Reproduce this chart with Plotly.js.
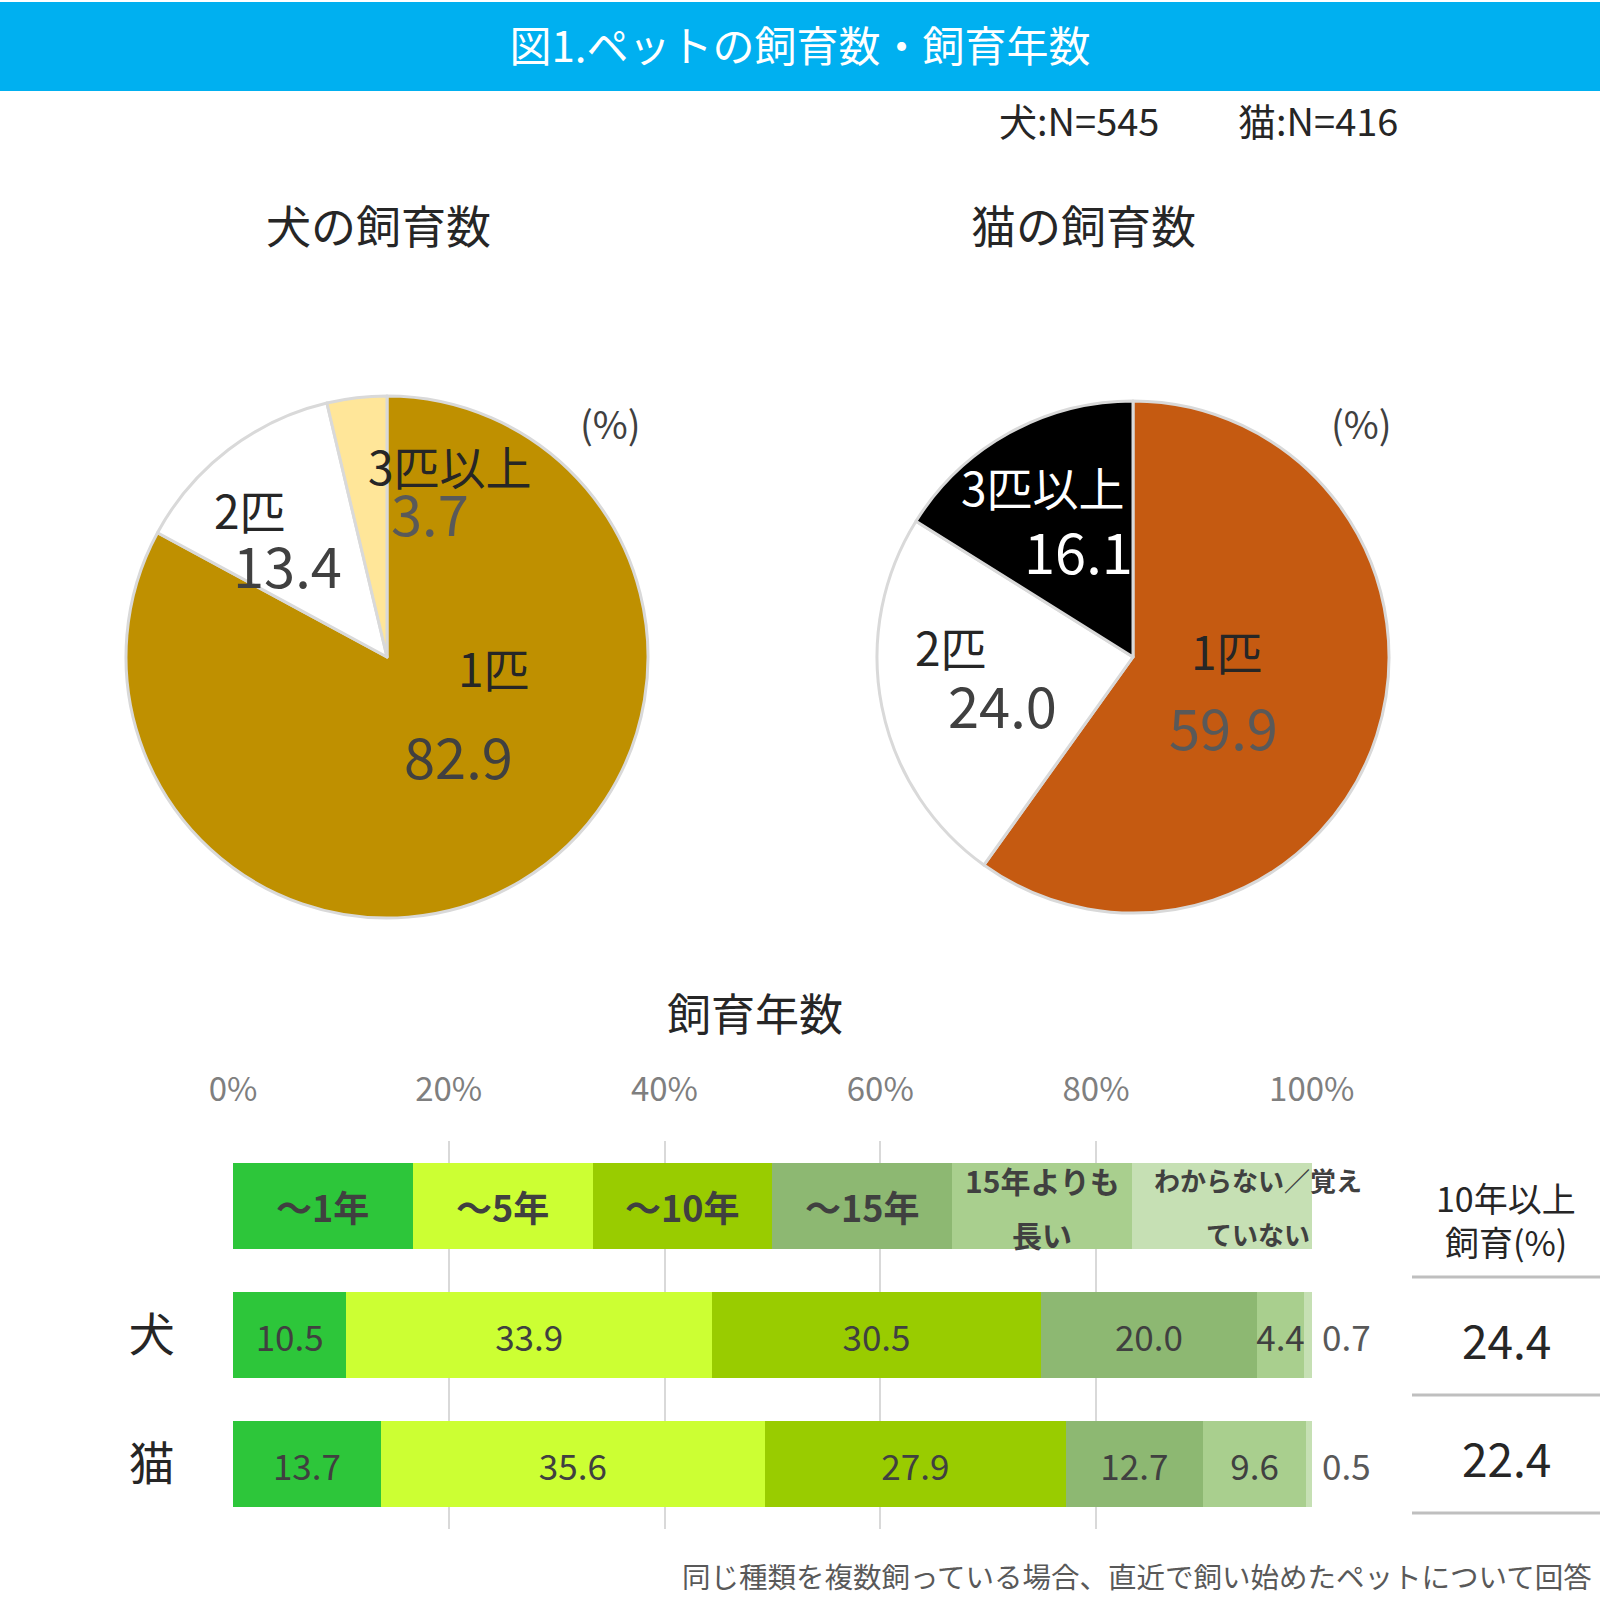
<!DOCTYPE html>
<html><head><meta charset="utf-8">
<script src="https://cdn.plot.ly/plotly-3.0.1.min.js"></script>
<style>body{margin:0;background:#fff}#chart{width:1600px;height:1620px}</style>
</head><body><div id="chart"></div>
<script>
// ---- data ----
const chartTitle = '図1.ペットの飼育数・飼育年数';
const sampleNotes = ['犬:N=545', '猫:N=416'];
const dogPieTitle = '犬の飼育数';
const catPieTitle = '猫の飼育数';
const pieLabels = ['1匹', '2匹', '3匹以上'];
const dogCounts = [82.9, 13.4, 3.7];
const catCounts = [59.9, 24.0, 16.1];
const barTitle = '飼育年数';
const periodCategories = ['～1年', '～5年', '～10年', '～15年', '15年よりも<br>長い', 'わからない／覚え<br>ていない'];
const rowLabels = ['犬', '猫'];
const dogYears = [10.5, 33.9, 30.5, 20.0, 4.4, 0.7];
const catYears = [13.7, 35.6, 27.9, 12.7, 9.6, 0.5];
const over10Header = '10年以上<br>飼育(%)';
const over10 = [24.4, 22.4];
const xTickVals = [0, 20, 40, 60, 80, 100];
const xTickText = ['0%', '20%', '40%', '60%', '80%', '100%'];
const footnote = '同じ種類を複数飼っている場合、直近で飼い始めたペットについて回答';

// ---- styles ----
const W = 1600, H = 1620;
const px = v => v / W;
const py = v => 1 - v / H;
const FONT = '"Noto Sans CJK JP", "Noto Sans", sans-serif';
const dogColors = ['#BF9000', '#FFFFFF', '#FFE699'];
const catColors = ['#C55A11', '#FFFFFF', '#000000'];
const periodColors = ['#2DC63A', '#CCFF33', '#99CC00', '#8DB872', '#A9CF8E', '#C6E0B4'];
const legendFontSizes = [36, 36, 36, 36, 30, 26];
const legendXShift = [0, 0, 0, 0, 0, 36];
const LEGEND_ROW = '凡例';

// pie label placement (pixel centres): [nameX, nameY, valueX, valueY, nameColor, valueColor]
const dogLabelPos = [
  [494, 667, 458, 754, '#262626', '#404040'],
  [250, 509, 287, 563, '#262626', '#404040'],
  [450, 465, 430, 511, '#262626', '#595959']
];
const catLabelPos = [
  [1227, 650, 1223, 725, '#262626', '#595959'],
  [951, 646, 1003, 703, '#262626', '#404040'],
  [1043, 486, 1078, 550, '#FFFFFF', '#FFFFFF']
];

const traces = [];
traces.push({
  type: 'pie', labels: pieLabels, values: dogCounts, sort: false, direction: 'clockwise', rotation: 0,
  marker: {colors: dogColors, line: {color: '#D9D9D9', width: 3}},
  textinfo: 'none', hoverinfo: 'skip', showlegend: false,
  domain: {x: [px(126), px(648)], y: [py(918), py(396)]}
});
traces.push({
  type: 'pie', labels: pieLabels, values: catCounts, sort: false, direction: 'clockwise', rotation: 0,
  marker: {colors: catColors, line: {color: '#D9D9D9', width: 3}},
  textinfo: 'none', hoverinfo: 'skip', showlegend: false,
  domain: {x: [px(877), px(1389)], y: [py(913), py(401)]}
});

const legendShare = 100 / periodCategories.length;
periodCategories.forEach((cat, i) => {
  const last = i === periodCategories.length - 1;
  traces.push({
    type: 'bar', orientation: 'h', name: cat,
    y: [LEGEND_ROW, ...rowLabels],
    x: [legendShare, dogYears[i], catYears[i]],
    text: ['', dogYears[i].toFixed(1), catYears[i].toFixed(1)],
    textposition: last ? 'none' : 'inside',
    insidetextanchor: 'middle',
    constraintext: 'none',
    textfont: {family: FONT, size: 35, color: '#404040'},
    marker: {color: periodColors[i], line: {width: 0}},
    hoverinfo: 'skip', showlegend: false
  });
});

const annotations = [];
const ann = (text, x, y, size, color, extra) => Object.assign({
  text, x: px(x), y: py(y), xref: 'paper', yref: 'paper', showarrow: false,
  xanchor: 'center', yanchor: 'middle', font: {family: FONT, size, color}
}, extra || {});

annotations.push(ann(sampleNotes[0], 997, 119, 38, '#262626', {xanchor: 'left'}));
annotations.push(ann(sampleNotes[1], 1400, 119, 38, '#262626', {xanchor: 'right'}));
annotations.push(ann(dogPieTitle, 378, 225, 45, '#262626'));
annotations.push(ann(catPieTitle, 1083, 225, 45, '#262626'));
annotations.push(ann('(%)', 610, 423, 38, '#404040'));
annotations.push(ann('(%)', 1361, 423, 38, '#404040'));
pieLabels.forEach((lab, i) => {
  const d = dogLabelPos[i], c = catLabelPos[i];
  annotations.push(ann(lab, d[0], d[1], 46, d[4]));
  annotations.push(ann(dogCounts[i].toFixed(1), d[2], d[3], 56, d[5]));
  annotations.push(ann(lab, c[0], c[1], 46, c[4]));
  annotations.push(ann(catCounts[i].toFixed(1), c[2], c[3], 56, c[5]));
});
annotations.push(ann(barTitle, 755, 1012, 44, '#262626'));
// legend-row labels, centred on each equal legend segment (multi-line labels split for spacing)
periodCategories.forEach((cat, i) => {
  const lines = cat.split('<br>');
  lines.forEach((line, j) => {
    const off = lines.length === 1 ? 0 : (j === 0 ? 26 : -28);
    annotations.push({
      text: line, x: legendShare * (i + 0.5), y: LEGEND_ROW, xref: 'x', yref: 'y',
      showarrow: false, xanchor: 'center', yanchor: 'middle',
      xshift: legendXShift[i], yshift: off,
      font: {family: FONT, size: legendFontSizes[i], color: '#404040', weight: 'bold'}
    });
  });
});
// values for the thin last segment, placed just past the bar end
[dogYears, catYears].forEach((row, r) => {
  const total = Math.round(row.reduce((a, b) => a + b, 0) * 10) / 10;
  annotations.push({
    text: row[row.length - 1].toFixed(1), x: total, y: rowLabels[r], xref: 'x', yref: 'y',
    showarrow: false, xanchor: 'left', yanchor: 'middle', xshift: 8,
    font: {family: FONT, size: 35, color: '#595959'}
  });
});
over10Header.split('<br>').forEach((line, j) => {
  annotations.push(ann(line, 1506, j === 0 ? 1197 : 1241, 34, '#262626'));
});
const over10Y = [1339, 1457];
over10.forEach((v, i) => annotations.push(ann(v.toFixed(1), 1506, over10Y[i], 46, '#262626')));
annotations.push(ann(footnote, 1594, 1575, 28.5, '#595959', {xanchor: 'right'}));

const shapes = [
  {type: 'rect', xref: 'paper', yref: 'paper', x0: 0, x1: 1, y0: py(91), y1: py(2),
   fillcolor: '#00B0F0', line: {width: 0}, layer: 'below'}
];
[1277, 1395, 1513].forEach(yv => shapes.push({
  type: 'line', xref: 'paper', yref: 'paper', x0: px(1412), x1: 1, y0: py(yv), y1: py(yv),
  line: {color: '#BFBFBF', width: 3}
}));

const layout = {
  width: W, height: H, margin: {l: 0, r: 0, t: 0, b: 0},
  paper_bgcolor: '#FFFFFF', plot_bgcolor: 'rgba(0,0,0,0)',
  font: {family: FONT},
  title: {text: chartTitle, x: 0.5, xanchor: 'center', y: py(47), yanchor: 'middle', yref: 'paper',
          font: {family: FONT, size: 42, color: '#FFFFFF'}},
  barmode: 'stack', bargap: 0.335,
  showlegend: false,
  xaxis: {domain: [px(233), px(1312)], range: [0, 100.02], side: 'top',
          tickmode: 'array', tickvals: xTickVals, ticktext: xTickText,
          ticks: 'outside', ticklen: 26, tickcolor: 'rgba(0,0,0,0)',
          tickfont: {family: FONT, size: 33, color: '#7F7F7F'},
          showgrid: true, gridcolor: '#D9D9D9', gridwidth: 2, zeroline: false, showline: false, fixedrange: true},
  yaxis: {domain: [py(1529), py(1141)], type: 'category',
          categoryorder: 'array', categoryarray: [LEGEND_ROW, ...rowLabels],
          range: [2.5, -0.5], autorange: false,
          tickmode: 'array', tickvals: rowLabels, ticktext: rowLabels,
          ticks: 'outside', ticklen: 48, tickcolor: 'rgba(0,0,0,0)',
          tickfont: {family: FONT, size: 46, color: '#262626'},
          showgrid: false, zeroline: false, showline: false, fixedrange: true},
  annotations, shapes
};

Plotly.newPlot('chart', traces, layout, {displayModeBar: false, staticPlot: true});
</script>
</body></html>
